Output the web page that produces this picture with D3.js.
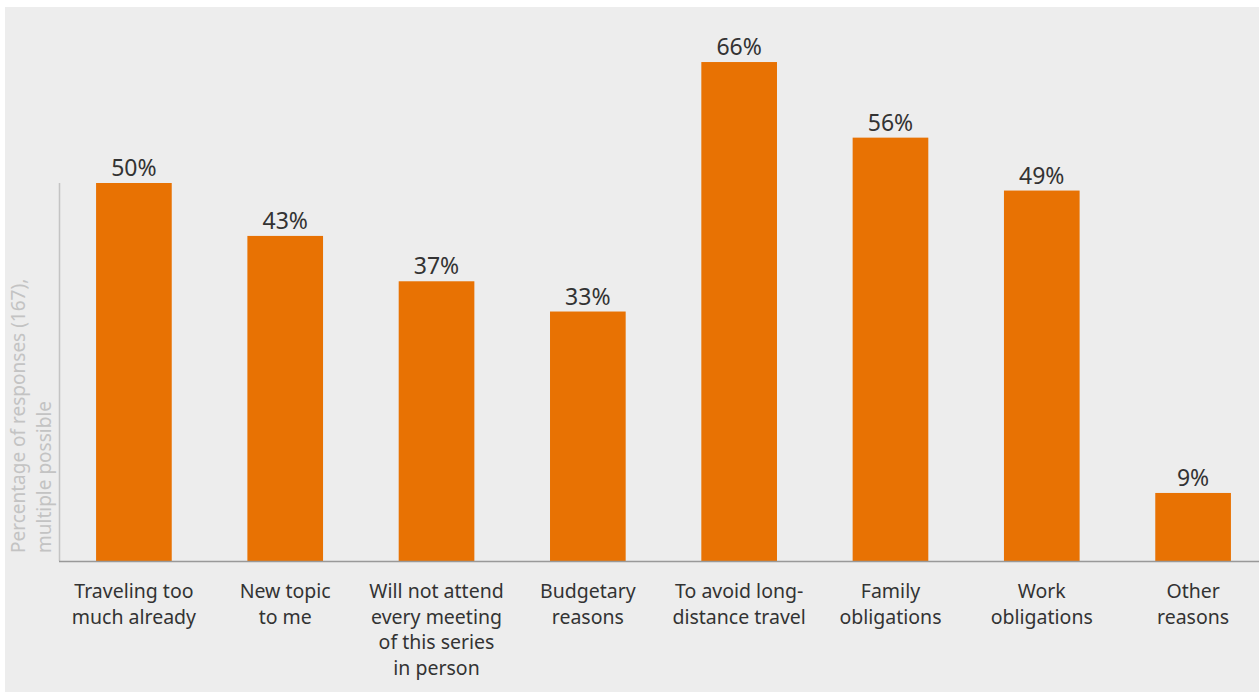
<!DOCTYPE html>
<html>
<head>
<meta charset="utf-8">
<script src="https://cdn.jsdelivr.net/npm/d3@7"></script>
<style>
  html, body { margin: 0; padding: 0; background: #ffffff; }
  svg { display: block; font-family: "Noto Sans", "Open Sans", sans-serif; }
</style>
</head>
<body>
<svg id="chart" width="1260" height="693"></svg>
<script>
// Reasons for not attending in person (share of 167 responses, multiple answers possible)
const categories = [
  ["Traveling too", "much already"],
  ["New topic", "to me"],
  ["Will not attend", "every meeting", "of this series", "in person"],
  ["Budgetary", "reasons"],
  ["To avoid long-", "distance travel"],
  ["Family", "obligations"],
  ["Work", "obligations"],
  ["Other", "reasons"]
];
const values = [50, 43, 37, 33, 66, 56, 49, 9];
const yAxisLabel = ["Percentage of responses (167),", "multiple possible"];

const svg = d3.select("#chart");

// panel background
svg.append("rect")
  .attr("x", 5).attr("y", 7)
  .attr("width", 1254).attr("height", 685)
  .attr("fill", "#ededed");

const keys = categories.map((c, i) => i);

const x = d3.scaleBand()
  .domain(keys)
  .range([59, 1268])
  .paddingInner(0.5)
  .paddingOuter(0.245);

const y = d3.scaleLinear()
  .domain([0, 50])
  .range([561, 183]);

// bars
svg.append("g").selectAll("rect")
  .data(values)
  .join("rect")
  .attr("x", (d, i) => x(i))
  .attr("y", d => y(d))
  .attr("width", x.bandwidth())
  .attr("height", d => y(0) - y(d))
  .attr("fill", "#e87203");

// value labels
svg.append("g").selectAll("text")
  .data(values)
  .join("text")
  .attr("x", (d, i) => x(i) + x.bandwidth() / 2)
  .attr("y", d => y(d) - 7)
  .attr("text-anchor", "middle")
  .attr("font-size", 23)
  .attr("fill", "#333333")
  .text(d => d + "%");

// vertical axis line
svg.append("line")
  .attr("x1", 59.5).attr("x2", 59.5)
  .attr("y1", y(50)).attr("y2", y(0))
  .attr("stroke", "#c4c4c4").attr("stroke-width", 1.5);

// horizontal baseline
svg.append("line")
  .attr("x1", 59).attr("x2", 1259)
  .attr("y1", y(0) + 0.5).attr("y2", y(0) + 0.5)
  .attr("stroke", "#999999").attr("stroke-width", 1.5);

// category labels
const catG = svg.append("g").selectAll("text")
  .data(categories)
  .join("text")
  .attr("text-anchor", "middle")
  .attr("font-size", 19.5)
  .attr("fill", "#333333");
catG.selectAll("tspan")
  .data((d, i) => d.map(line => ({ line, i })))
  .join("tspan")
  .attr("x", d => x(d.i) + x.bandwidth() / 2)
  .attr("y", (d, j) => 598 + j * 25.5)
  .text(d => d.line);

// rotated axis title
svg.append("text")
  .attr("transform", "translate(0,553) rotate(-90)")
  .attr("font-size", 19)
  .attr("fill", "#c3c3c3")
  .selectAll("tspan")
  .data(yAxisLabel)
  .join("tspan")
  .attr("x", 0)
  .attr("y", (d, j) => 25 + j * 25.5)
  .text(d => d);
</script>
</body>
</html>
